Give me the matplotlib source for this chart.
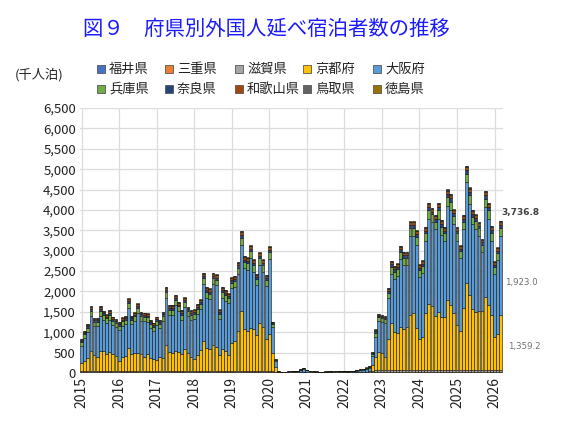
import matplotlib
matplotlib.use('Agg')
import matplotlib.pyplot as plt
import numpy as np
from matplotlib.patches import Rectangle

plt.rcParams['font.family'] = ['Noto Sans CJK JP', 'DejaVu Sans']

# ---------------- data (thousand guest nights, monthly 2015-01 .. 2026-03) ----------------
years = [2015, 2016, 2017, 2018, 2019, 2020, 2021, 2022, 2023, 2024, 2025, 2026]
names = ['福井県', '三重県', '滋賀県', '京都府', '大阪府',
         '兵庫県', '奈良県', '和歌山県', '鳥取県', '徳島県']
colors = ['#4472C4', '#ED7D31', '#A5A5A5', '#FFC000', '#5B9BD5',
          '#70AD47', '#264478', '#9E480E', '#636363', '#997300']

fukui = [6, 6, 6, 6, 6, 6, 6, 6, 6, 6, 6, 6,
         6, 6, 6, 6, 6, 6, 6, 6, 6, 6, 6, 6,
         6, 6, 6, 6, 6, 6, 6, 6, 6, 6, 6, 6,
         6, 6, 6, 6, 6, 6, 6, 6, 6, 6, 6, 6,
         6, 6, 6, 6, 6, 6, 6, 6, 6, 6, 6, 6,
         6, 6, 3, 1, 1, 1, 1, 1, 1, 1, 2, 2,
         2, 1, 1, 1, 1, 1, 1, 1, 1, 1, 1, 1,
         1, 1, 1, 1, 2, 2, 2, 2, 3, 5, 8, 8,
         8, 8, 8, 8, 8, 8, 8, 8, 8, 8, 8, 8,
         8, 8, 8, 8, 8, 8, 8, 8, 8, 8, 8, 8,
         8, 8, 8, 8, 8, 8, 8, 8, 8, 8, 8, 8,
         8, 8, 8]
mie = [18, 18, 18, 18, 18, 18, 18, 18, 18, 18, 18, 18,
       18, 18, 18, 18, 18, 18, 18, 18, 18, 18, 18, 18,
       18, 18, 18, 18, 18, 18, 18, 18, 18, 18, 18, 18,
       18, 18, 18, 18, 18, 18, 18, 18, 18, 18, 18, 18,
       18, 18, 18, 18, 18, 18, 18, 18, 18, 18, 18, 18,
       18, 18, 8, 2, 2, 2, 2, 2, 2, 3, 4, 5,
       4, 2, 2, 2, 2, 2, 2, 2, 2, 2, 2, 3,
       2, 2, 3, 3, 4, 4, 5, 5, 6, 14, 22, 22,
       22, 22, 22, 22, 22, 22, 22, 22, 22, 22, 22, 22,
       22, 22, 22, 22, 22, 22, 22, 22, 22, 22, 22, 22,
       22, 22, 22, 22, 22, 22, 22, 22, 22, 22, 22, 22,
       22, 22, 22]
shiga = [30, 30, 30, 30, 30, 30, 30, 30, 30, 30, 30, 30,
         30, 30, 30, 30, 30, 30, 30, 30, 30, 30, 30, 30,
         30, 30, 30, 30, 30, 30, 30, 30, 30, 30, 30, 30,
         30, 30, 30, 30, 30, 30, 30, 30, 30, 30, 30, 30,
         30, 30, 30, 30, 30, 30, 30, 30, 30, 30, 30, 30,
         30, 30, 12, 4, 4, 4, 4, 4, 4, 5, 7, 9,
         7, 4, 4, 4, 4, 4, 4, 4, 4, 4, 4, 5,
         4, 4, 5, 5, 7, 7, 9, 9, 10, 22, 36, 36,
         36, 36, 36, 36, 36, 36, 36, 36, 36, 36, 36, 36,
         36, 36, 36, 36, 36, 36, 36, 36, 36, 36, 36, 36,
         36, 36, 36, 36, 36, 36, 36, 36, 36, 36, 36, 36,
         36, 36, 36]
kyoto = [184, 233, 306, 494, 387, 346, 486, 477, 412, 469, 404, 371,
         248, 346, 366, 551, 404, 429, 429, 404, 330, 412, 306, 281,
         265, 346, 306, 633, 453, 429, 494, 469, 404, 527, 429, 330,
         298, 387, 510, 731, 551, 527, 625, 576, 379, 543, 486, 379,
         690, 723, 968, 1459, 1017, 968, 1050, 1017, 878, 1165, 1083, 772,
         895, 429, 117, 5, 5, 5, 5, 5, 6, 7, 12, 16,
         11, 6, 5, 5, 5, 5, 5, 5, 5, 5, 6, 7,
         6, 5, 6, 8, 9, 11, 14, 18, 22, 159, 334, 457,
         416, 334, 760, 1152, 932, 923, 1054, 1005, 1071, 1357, 1398, 1030,
         776, 825, 1414, 1627, 1578, 1332, 1430, 1300, 1300, 1725, 1610, 1398,
         1111, 972, 1520, 2150, 1839, 1512, 1439, 1447, 1463, 1790, 1610, 1357,
         809, 891, 1359.2]
osaka = [430, 577, 635, 856, 701, 742, 864, 759, 766, 783, 717, 693,
         742, 759, 771, 988, 733, 798, 987, 807, 889, 790, 733, 692,
         856, 693, 905, 1157, 922, 946, 1126, 987, 848, 1036, 905, 922,
         971, 1013, 1004, 1403, 1239, 1223, 1509, 1517, 890, 1247, 1223, 1283,
         1330, 1329, 1405, 1631, 1495, 1511, 1724, 1413, 1223, 1437, 1347, 1313,
         1855, 651, 143, 18, 13, 14, 18, 19, 21, 26, 44, 65,
         41, 21, 18, 16, 13, 13, 16, 18, 18, 19, 21, 23,
         21, 18, 22, 29, 32, 44, 54, 71, 90, 219, 493, 746,
         763, 820, 1005, 1221, 1319, 1393, 1687, 1589, 1523, 1942, 1901, 2048,
         1516, 1565, 1754, 2080, 2056, 2122, 2277, 2031, 1868, 2309, 2310, 2195,
         2057, 1786, 1934, 2457, 2245, 2065, 2031, 1843, 1450, 2204, 2097, 1827,
         1556, 1818, 1923.0]
hyogo = [90, 90, 110, 125, 110, 110, 125, 125, 110, 125, 110, 110,
         110, 110, 110, 125, 110, 110, 125, 125, 110, 110, 110, 110,
         110, 110, 125, 140, 125, 125, 125, 125, 125, 125, 125, 125,
         125, 125, 125, 140, 140, 140, 140, 140, 125, 140, 140, 125,
         140, 140, 155, 170, 155, 155, 155, 155, 140, 155, 155, 140,
         155, 70, 30, 5, 5, 5, 5, 6, 6, 7, 12, 16,
         11, 6, 5, 5, 5, 5, 5, 5, 5, 6, 6, 7,
         6, 5, 7, 8, 9, 11, 14, 18, 20, 50, 100, 100,
         100, 100, 140, 170, 170, 170, 170, 170, 170, 195, 195, 195,
         170, 170, 195, 220, 195, 195, 220, 195, 195, 220, 220, 195,
         195, 170, 195, 220, 220, 195, 195, 195, 170, 220, 220, 195,
         170, 170, 215]
nara = [30, 30, 38, 45, 38, 38, 45, 45, 38, 45, 38, 38,
        38, 38, 38, 45, 38, 38, 45, 45, 38, 38, 38, 38,
        38, 38, 45, 55, 45, 45, 45, 45, 45, 45, 45, 45,
        45, 45, 45, 55, 55, 55, 55, 55, 45, 55, 55, 45,
        55, 55, 62, 72, 62, 62, 62, 62, 55, 62, 62, 55,
        62, 20, 8, 1, 1, 1, 1, 1, 1, 2, 3, 4,
        3, 1, 1, 1, 1, 1, 1, 1, 1, 1, 1, 2,
        1, 1, 2, 2, 3, 3, 4, 4, 5, 15, 30, 30,
        30, 30, 45, 55, 55, 55, 55, 55, 55, 65, 65, 65,
        55, 55, 65, 75, 65, 65, 75, 65, 65, 75, 75, 65,
        65, 55, 65, 75, 75, 65, 65, 65, 55, 75, 75, 65,
        55, 55, 70]
wakayama = [30, 30, 40, 48, 40, 40, 48, 48, 40, 48, 40, 40,
            40, 40, 40, 48, 40, 40, 48, 48, 40, 40, 40, 40,
            40, 40, 48, 55, 48, 48, 48, 48, 48, 48, 48, 48,
            48, 48, 48, 55, 55, 55, 55, 55, 48, 55, 55, 48,
            55, 55, 62, 70, 62, 62, 62, 62, 55, 62, 62, 55,
            62, 25, 10, 2, 2, 2, 2, 2, 2, 2, 4, 5,
            4, 2, 2, 2, 2, 2, 2, 2, 2, 2, 2, 2,
            2, 2, 2, 2, 4, 4, 5, 5, 6, 15, 35, 35,
            35, 35, 50, 60, 60, 60, 60, 60, 60, 70, 70, 70,
            60, 60, 70, 80, 70, 70, 80, 70, 70, 80, 80, 70,
            70, 60, 70, 80, 80, 70, 70, 70, 60, 80, 80, 70,
            60, 60, 78]
tottori = [10, 10, 12, 13, 12, 12, 13, 13, 12, 13, 12, 12,
           12, 12, 12, 13, 12, 12, 13, 13, 12, 12, 12, 12,
           12, 12, 13, 14, 13, 13, 13, 13, 13, 13, 13, 13,
           13, 13, 13, 14, 14, 14, 14, 14, 13, 14, 14, 13,
           14, 14, 15, 16, 15, 15, 15, 15, 14, 15, 15, 14,
           15, 6, 3, 1, 1, 1, 1, 1, 1, 1, 1, 2,
           1, 1, 1, 1, 1, 1, 1, 1, 1, 1, 1, 1,
           1, 1, 1, 1, 1, 1, 2, 2, 2, 5, 8, 8,
           8, 8, 12, 14, 14, 14, 14, 14, 14, 16, 16, 16,
           14, 14, 16, 18, 16, 16, 18, 16, 16, 18, 18, 16,
           16, 14, 16, 18, 18, 16, 16, 16, 14, 18, 18, 16,
           14, 14, 16]
tokushima = [6, 6, 7, 8, 7, 7, 8, 8, 7, 8, 7, 7,
             7, 7, 7, 8, 7, 7, 8, 8, 7, 7, 7, 7,
             7, 7, 8, 9, 8, 8, 8, 8, 8, 8, 8, 8,
             8, 8, 8, 9, 9, 9, 9, 9, 8, 9, 9, 8,
             9, 9, 10, 11, 10, 10, 10, 10, 9, 10, 10, 9,
             10, 4, 2, 1, 1, 1, 1, 1, 1, 1, 1, 1,
             1, 1, 1, 1, 1, 1, 1, 1, 1, 1, 1, 1,
             1, 1, 1, 1, 1, 1, 1, 1, 1, 3, 5, 5,
             5, 5, 7, 9, 9, 9, 9, 9, 9, 10, 10, 10,
             9, 9, 10, 12, 10, 10, 12, 10, 10, 12, 12, 10,
             10, 9, 10, 12, 12, 10, 10, 10, 9, 12, 12, 10,
             9, 9, 9.6]

last_labels = ['3,736.8', '1,923.0', '1,359.2']

series = [fukui, mie, shiga, kyoto, osaka, hyogo, nara, wakayama, tottori, tokushima]

# ---------------- figure ----------------
W, H = 566, 423
fig = plt.figure(figsize=(W / 100, H / 100), dpi=100)
fig.patch.set_facecolor('white')


def fx(px):
    return px / W


def fy(py):
    return 1 - py / H


ax = fig.add_axes([fx(80), fy(373), fx(502.7) - fx(80), fy(108) - fy(373)])
n = len(osaka)
x = np.arange(n)
bottom = np.zeros(n)
for vals, col in zip(series, colors):
    v = np.array(vals, dtype=float)
    ax.bar(x, v, width=0.9, bottom=bottom, color=col,
           edgecolor='#111111', linewidth=0.4, zorder=3)
    bottom += v

ax.set_xlim(-0.5, 134.6)
ax.set_ylim(0, 6500)
yt = list(range(0, 6501, 500))
ax.set_yticks(yt)
ax.set_yticklabels([f'{v:,}' for v in yt], fontsize=9.5, color='#222222')
xt = [i * 12 for i in range(len(years))]
ax.set_xticks(xt)
ax.set_xticklabels([str(y) for y in years], rotation=90, fontsize=10, color='#222222')
ax.grid(True, color='#dcdcdc', linewidth=0.9, zorder=0)
ax.set_axisbelow(True)
for s in ax.spines.values():
    s.set_visible(False)
ax.tick_params(length=0, pad=3)

# title
fig.text(fx(266), fy(29), '図９　府県別外国人延べ宿泊者数の推移', ha='center', va='center',
         fontsize=14.7, color='#1a1aff')
# unit label
fig.text(fx(15), fy(75), '(千人泊)', ha='left', va='center', fontsize=9.5, color='#222222')

# legend (manual grid, 2 rows x 5 columns)
col_x = [97, 165, 235, 303, 373]
row_y = [69, 89]
order = [[0, 1, 2, 3, 4], [5, 6, 7, 8, 9]]
for r, row in enumerate(order):
    for c, idx in enumerate(row):
        x0, y0 = col_x[c], row_y[r]
        fig.patches.append(Rectangle((fx(x0), fy(y0 + 4)), fx(8), 8 / H,
                                     transform=fig.transFigure, facecolor=colors[idx],
                                     edgecolor='#555555', linewidth=0.6))
        fig.text(fx(x0 + 12), fy(y0), names[idx], ha='left', va='center',
                 fontsize=9.5, color='#222222')

# value labels for last month
fig.text(fx(501), fy(212), last_labels[0], ha='left', va='center', fontsize=6.5,
         fontweight='bold', color='#404040', family='DejaVu Sans')
fig.text(fx(505), fy(283), last_labels[1], ha='left', va='center', fontsize=6.2,
         color='#707070', family='DejaVu Sans')
fig.text(fx(508), fy(347), last_labels[2], ha='left', va='center', fontsize=6.2,
         color='#707070', family='DejaVu Sans')

fig.savefig('out.png', dpi=100)
